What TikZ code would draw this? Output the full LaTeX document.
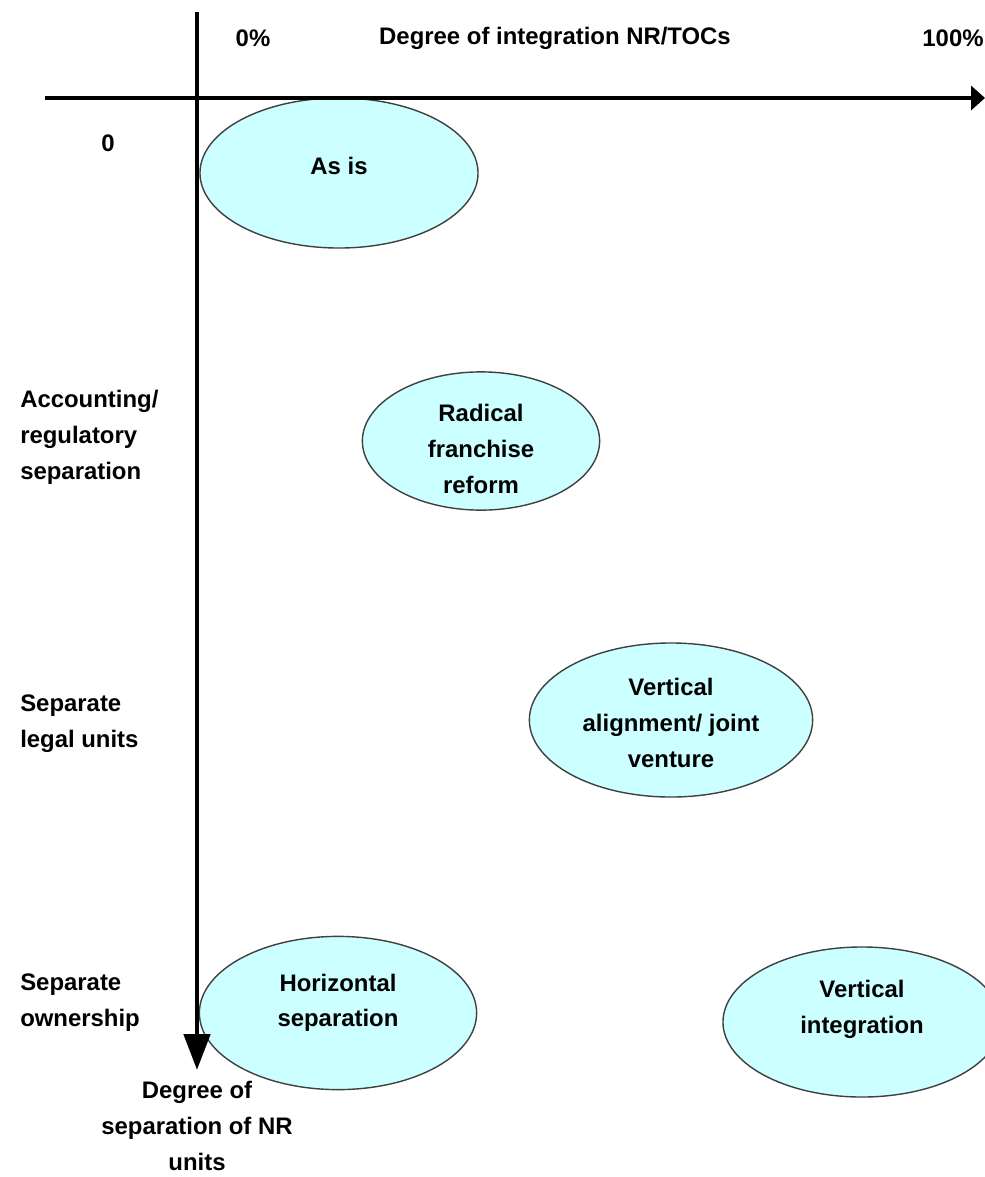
\documentclass[tikz,border=0pt]{standalone}
\usepackage{fontspec}
\setmainfont{Liberation Sans}
\usetikzlibrary{arrows.meta,shapes.geometric,positioning}

% text block inside an ellipse, moved up (or down) without changing its size
\newcommand{\liftby}[2]{\raisebox{#1}[\height][\depth]{\begin{tabular}{@{}c@{}}#2\end{tabular}}}

\begin{document}
\begin{tikzpicture}[x=0.025cm, y=-0.025cm,
    axis/.style={line width=3.5pt, draw=black},
    option/.style={ellipse, draw=black!75, line width=1pt, fill={rgb,255:red,204;green,255;blue,255},
    inner sep=0pt},
    lbl/.style={font=\bfseries\fontsize{17}{25.5}\selectfont, text=black}]
    \useasboundingbox (0,0) rectangle (985,1177);

    % options
    \node (asis) [option, lbl, minimum width=6.95cm, minimum height=3.75cm] at (339,173) {\liftby{4pt}{As is}};
    \node (radical) [option, lbl, inner ysep=-3.5pt, minimum width=5.93cm, minimum height=3.45cm] at (481,441) {\liftby{-6.4pt}{Radical\\franchise\\reform}};
    \node (valign) [option, lbl, minimum width=7.08cm, minimum height=3.85cm] at (671,720) {\liftby{-3pt}{Vertical\\alignment/ joint\\venture}};
    \node (hsep) [option, lbl, minimum width=6.93cm, minimum height=3.83cm] at (338,1013) {\liftby{8pt}{Horizontal\\separation}};
    \node (vint) [option, lbl, minimum width=6.95cm, minimum height=3.75cm] at (862,1022) {\liftby{10pt}{Vertical\\integration}};

    % axes
    \coordinate (xstart) at (45,98);
    \coordinate (xend) at (985,98);
    \coordinate (ystart) at (197,12);
    \coordinate (yend) at (197,1070);
    \draw [axis, -{Triangle[length=0.35cm, width=0.6cm]}] (xstart) -- (xend);
    \draw [axis, -{Triangle[length=0.9cm, width=0.65cm]}] (ystart) -- (yend);

    % labels
    \node (zeropct) [lbl] at (253,38) {0\%};
    \node (xtitle) [lbl] at (555,38) {Degree of integration NR/TOCs};
    \node (fullpct) [lbl] at (953,38) {100\%};
    \node (zero) [lbl] at (108,143) {0};
    \node (acct) [lbl, anchor=west, align=left, inner sep=0pt] at (20,437) {Accounting/\\regulatory\\separation};
    \node (legal) [lbl, anchor=west, align=left, inner sep=0pt] at (20,724) {Separate\\legal units};
    \node (owner) [lbl, anchor=west, align=left, inner sep=0pt] at (20,1003) {Separate\\ownership};
    \node (ytitle) [lbl, align=center, below=0.15cm of yend] {Degree of\\separation of NR\\units};
\end{tikzpicture}
\end{document}
